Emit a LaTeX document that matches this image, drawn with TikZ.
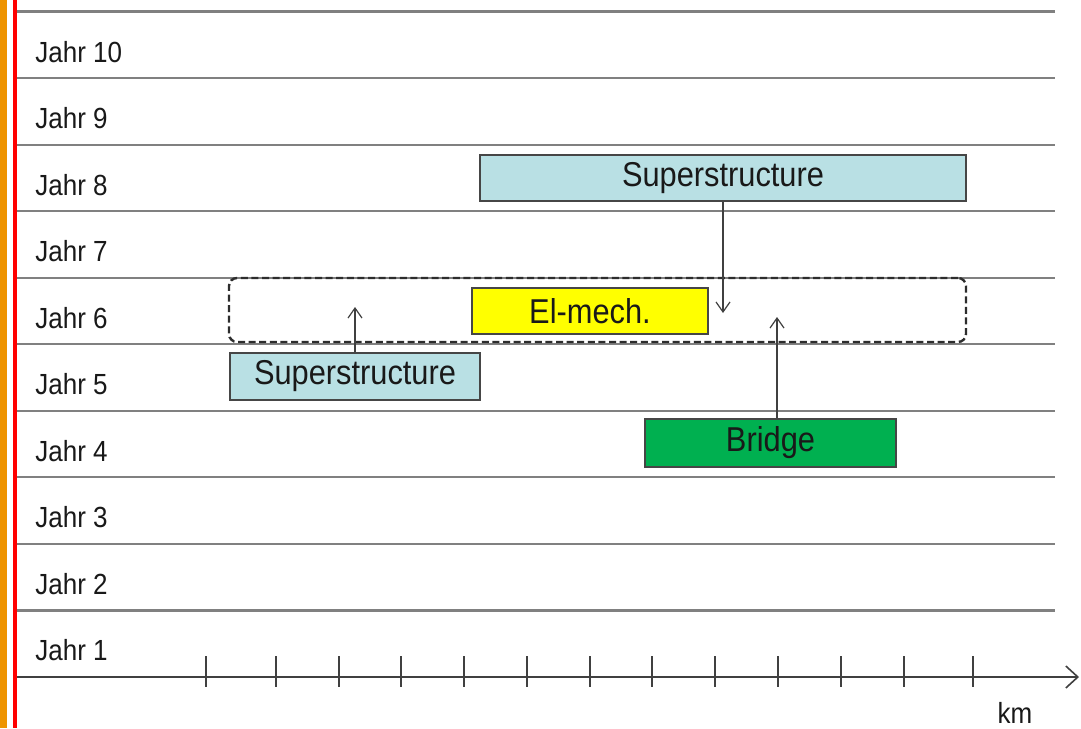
\documentclass[tikz,border=0pt]{standalone}
\usepackage{fontspec}
\usepackage{graphicx}
\setmainfont{Liberation Sans}
\usetikzlibrary{arrows.meta}

\definecolor{railgray}{RGB}{128,128,128}
\definecolor{axisgray}{RGB}{64,64,64}
\definecolor{boxedge}{RGB}{70,70,70}
\definecolor{groupedge}{RGB}{45,45,45}
\definecolor{superblue}{RGB}{185,224,228}
\definecolor{elyellow}{RGB}{255,255,0}
\definecolor{bridgegreen}{RGB}{0,176,80}
\definecolor{barorange}{RGB}{238,148,0}
\definecolor{barred}{RGB}{255,0,0}
\definecolor{inkdark}{RGB}{25,25,25}

\newcommand\tallstr[1]{\scalebox{1}[1.12]{#1}}

\tikzset{
  yearline/.style={railgray, line width=1.1pt},
  yearlabel/.style={anchor=base west, inner sep=0pt, text=inkdark,
    font=\fontsize{13}{15}\selectfont},
  workbox/.style={draw=boxedge, line width=0.7pt, rectangle, inner sep=0pt,
    text=inkdark, font=\fontsize{15.4}{18}\selectfont},
  groupbox/.style={draw=groupedge, dash pattern=on 3.5pt off 1.8pt,
    line width=1.2pt, rounded corners=4pt, rectangle, inner sep=0pt},
  link/.style={draw=axisgray, line width=0.6pt,
    -{Straight Barb[length=5pt, width=7pt, line width=0.6pt]}},
  tickmark/.style={axisgray, line width=0.7pt},
}

\begin{document}
\begin{tikzpicture}[x=0.5pt, y=-0.5pt]
  \useasboundingbox (0,0) rectangle (1081,728);
  \fill[white] (0,0) rectangle (1081,728);

  % coloured margin bars
  \fill[barorange] (0,0) rectangle (7,728);
  \fill[barred] (13,0) rectangle (17,728);

  % year rows
  \foreach \i in {0,...,9} {
    \draw[yearline] (17,{11.5+\i*66.55}) -- (1055,{11.5+\i*66.55});
  }
  \foreach \k in {1,...,10} {
    \node[yearlabel] (jahr\k) at (35,{62+(10-\k)*66.55}) {\tallstr{Jahr \k}};
  }

  % distance axis
  \coordinate (axisstart) at (17,677);
  \coordinate (axisend) at (1079,677);
  \draw[axisgray, line width=0.8pt,
    -{Straight Barb[length=6pt, width=11pt, line width=0.8pt]}] (axisstart) -- (axisend);
  \foreach \t in {206,276,339,401,464,527,590,652,715,778,841,904,973} {
    \draw[tickmark] (\t,656) -- (\t,687);
  }
  \node[yearlabel, anchor=center] (km) at (1015,713) {\tallstr{km}};

  % work packages
  \node[groupbox, minimum width=368.5pt, minimum height=32pt] (group) at (597.5,310) {};
  \node[workbox, fill=superblue, minimum width=243pt, minimum height=23pt] (superTop) at (723,178) {\tallstr{Superstructure}};
  \node[workbox, fill=superblue, minimum width=125pt, minimum height=23.5pt] (superLow) at (355,376.5) {\tallstr{Superstructure}};
  \node[workbox, fill=elyellow, minimum width=118pt, minimum height=23pt] (elmech) at (590,311) {\tallstr{El-mech.}};
  \node[workbox, fill=bridgegreen, minimum width=125.5pt, minimum height=24pt] (bridge) at (770.5,443) {\tallstr{Bridge}};

  % shifts into the common year
  \coordinate (topTarget) at (723,313);
  \coordinate (lowTarget) at (355,307);
  \coordinate (bridgeTarget) at (777,317);
  \draw[link] (superTop.south) -- (topTarget);
  \draw[link] (superLow.north) -- (lowTarget);
  \draw[link] (bridge.north -| bridgeTarget) -- (bridgeTarget);
\end{tikzpicture}
\end{document}
